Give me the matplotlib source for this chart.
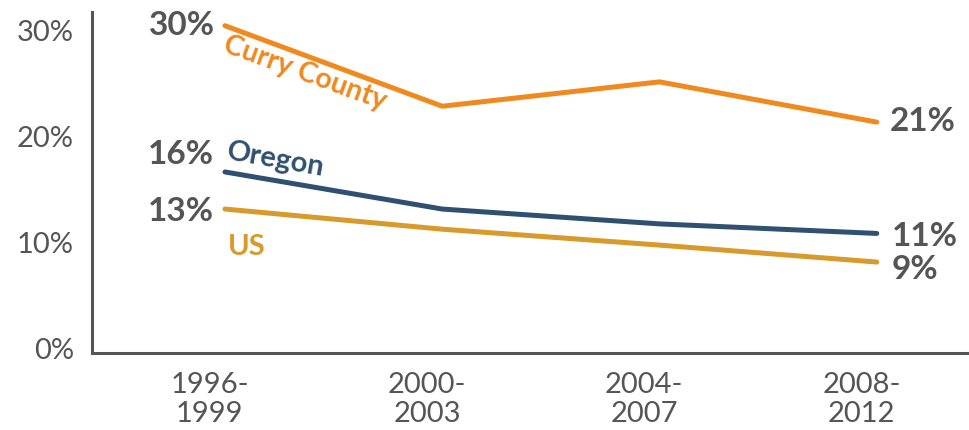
import matplotlib
matplotlib.use("Agg")
import matplotlib.pyplot as plt

periods = ["1996-\n1999", "2000-\n2003", "2004-\n2007", "2008-\n2012"]
curry = [30.5, 22.9, 25.2, 21.4]
oregon = [16.7, 13.2, 11.8, 10.9]
us = [13.2, 11.3, 9.8, 8.2]
start_labels = ["30%", "16%", "13%"]
end_labels = ["21%", "11%", "9%"]
yticks = [0, 10, 20, 30]

gray = "#555555"
c_curry = "#F0891E"
c_oregon = "#2F5070"
c_us = "#D89A2A"

plt.rcParams["font.family"] = ["Lato", "DejaVu Sans"]

fig = plt.figure(figsize=(9.7, 4.3), dpi=100)
ax = fig.add_axes([92 / 970, 77 / 430, 876 / 970, 341 / 430])

x = list(range(len(periods)))
for vals, col in [(curry, c_curry), (oregon, c_oregon), (us, c_us)]:
    ax.plot(x, vals, color=col, linewidth=3.6, solid_capstyle="round", solid_joinstyle="round")

ax.set_xlim(-0.612, 3.42)
ax.set_ylim(-0.38, 31.79)
ax.set_xticks([i - 0.07 for i in x])
ax.set_xticklabels(periods, fontsize=21, color=gray, linespacing=1.1)
ax.set_yticks(yticks)
ax.set_yticklabels([f"{v}%" for v in yticks], fontsize=21, color=gray)
ax.tick_params(length=0)
ax.tick_params(axis="y", pad=13)
ax.tick_params(axis="x", pad=14)

for s in ["top", "right"]:
    ax.spines[s].set_visible(False)
for s in ["left", "bottom"]:
    ax.spines[s].set_color(gray)
    ax.spines[s].set_linewidth(2.2)

# start / end value labels
starts = [(curry, (-10, 0)), (oregon, (-11, 17)), (us, (-11, -2))]
for (vals, off), lab in zip(starts, start_labels):
    ax.annotate(lab, (0, vals[0]), xytext=off, textcoords="offset pixels",
                ha="right", va="center", fontsize=24, fontweight="bold", color=gray)
ends = [(curry, (13, 1)), (oregon, (15, -3)), (us, (15, -7))]
for (vals, off), lab in zip(ends, end_labels):
    ax.annotate(lab, (3, vals[3]), xytext=off, textcoords="offset pixels",
                ha="left", va="center", fontsize=24, fontweight="bold", color=gray)

# series names
ax.annotate("Curry County", (0, curry[0]), xytext=(80, -47), textcoords="offset pixels",
            ha="center", va="center", fontsize=20.5, fontweight="bold", color=c_curry,
            rotation=-20, rotation_mode="anchor")
ax.annotate("Oregon", (0, oregon[0]), xytext=(51, 12), textcoords="offset pixels",
            ha="center", va="center", fontsize=21, fontweight="bold", color=c_oregon,
            rotation=-10, rotation_mode="anchor")
ax.annotate("US", (0, us[0]), xytext=(22, -38), textcoords="offset pixels",
            ha="center", va="center", fontsize=21, fontweight="bold", color=c_us)

fig.savefig("out.png", dpi=100)
